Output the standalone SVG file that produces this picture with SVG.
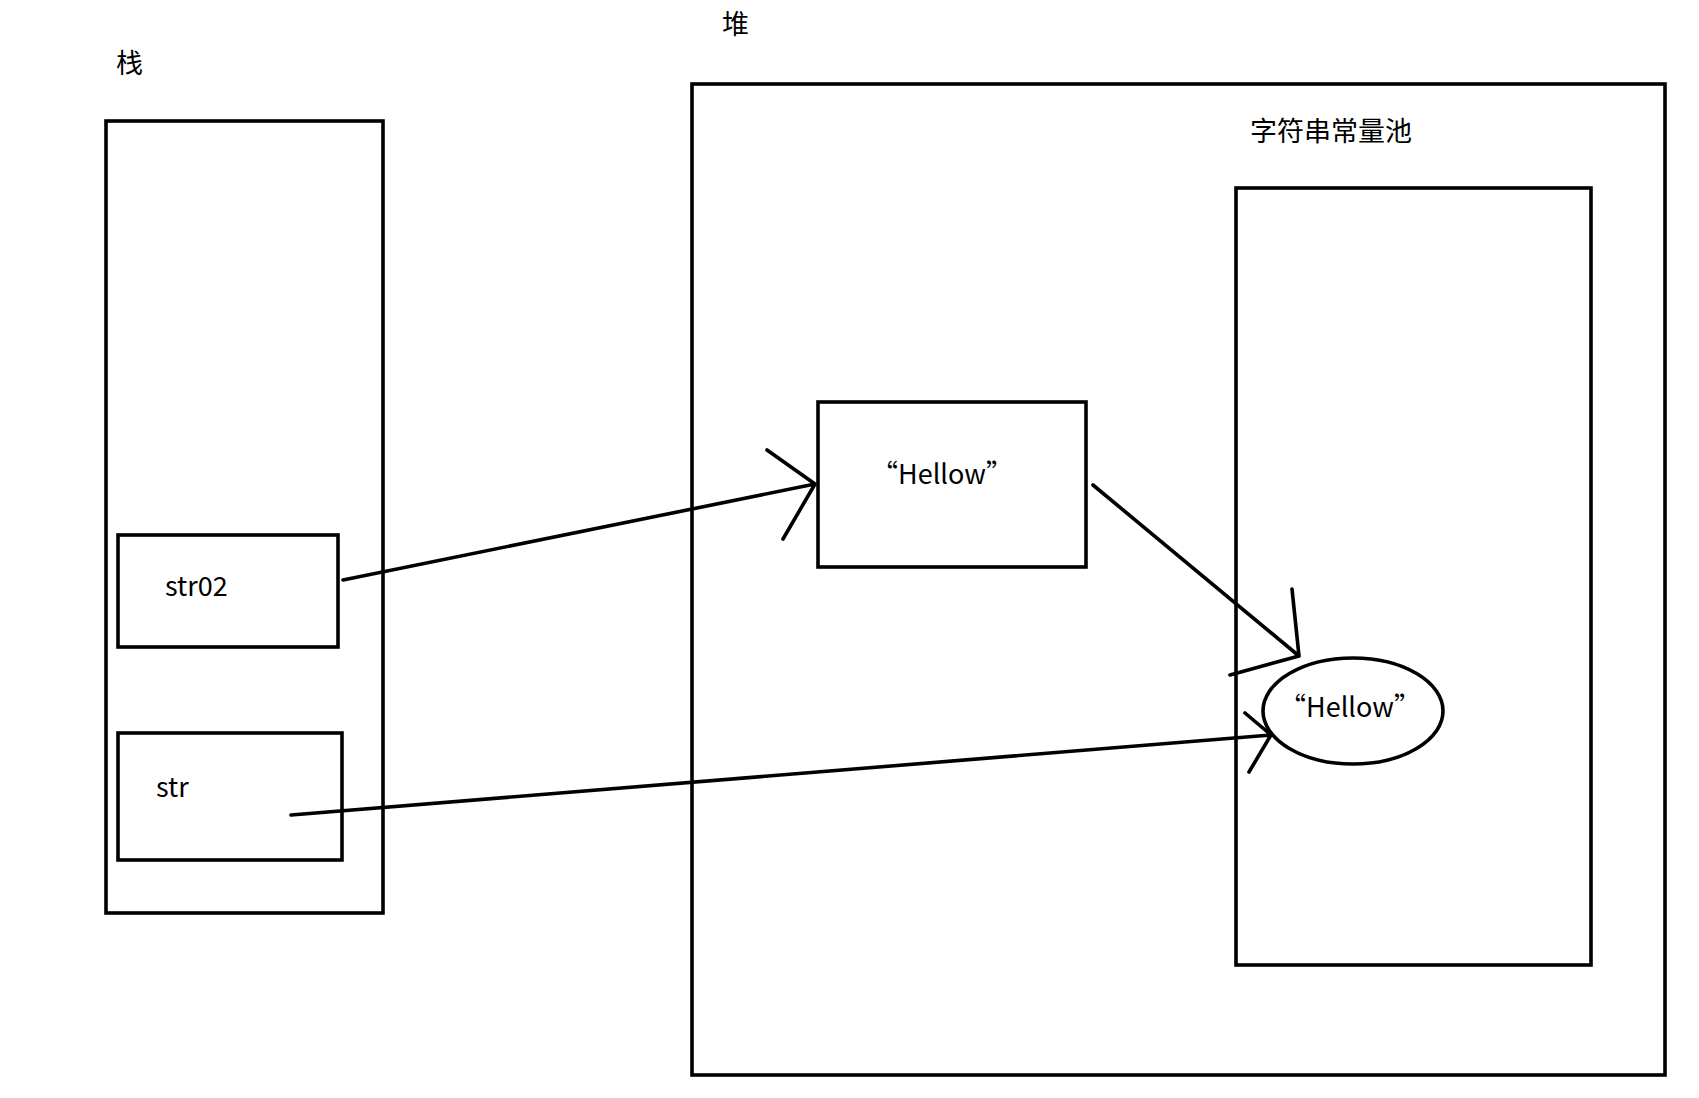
<svg xmlns="http://www.w3.org/2000/svg" width="1699" height="1098" viewBox="0 0 1699 1098">
<style>
.b{fill:none;stroke:#000;stroke-width:3.6}
.l{fill:none;stroke:#000;stroke-width:3.6;stroke-linecap:round;stroke-linejoin:round}
text{font-family:"Noto Sans CJK SC","Noto Sans",sans-serif;font-size:27px;fill:#000}
</style>
<rect width="1699" height="1098" fill="#fff"/>
<g id="stack"><rect class="b" x="106" y="121" width="277" height="792"/><text x="116" y="73">栈</text></g>
<g id="heap"><rect class="b" x="692" y="84" width="973" height="991"/><text x="722" y="34">堆</text></g>
<g id="pool"><rect class="b" x="1236" y="188" width="355" height="777"/><text x="1331" y="141" text-anchor="middle">字符串常量池</text></g>
<g id="str02"><rect class="b" x="118" y="535" width="220" height="112"/><text x="165" y="596">str02</text></g>
<g id="str"><rect class="b" x="118" y="733" width="224" height="127"/><text x="156" y="797">str</text></g>
<g id="hellowObj"><rect class="b" x="818" y="402" width="268" height="165"/><text x="942" y="484" text-anchor="middle">“Hellow”</text></g>
<g id="hellowConst"><ellipse class="b" cx="1353" cy="711" rx="90" ry="53"/><text x="1350" y="717" text-anchor="middle">“Hellow”</text></g>
<g id="connectors">
<path class="l" d="M343 580L815 484M767 450L815 484L783 539"/>
<path class="l" d="M1093 485L1299 656M1292 589L1299 656L1230 675"/>
<path class="l" d="M291 815L1271 735M1245 713L1271 735L1249 772"/>
</g>
</svg>
